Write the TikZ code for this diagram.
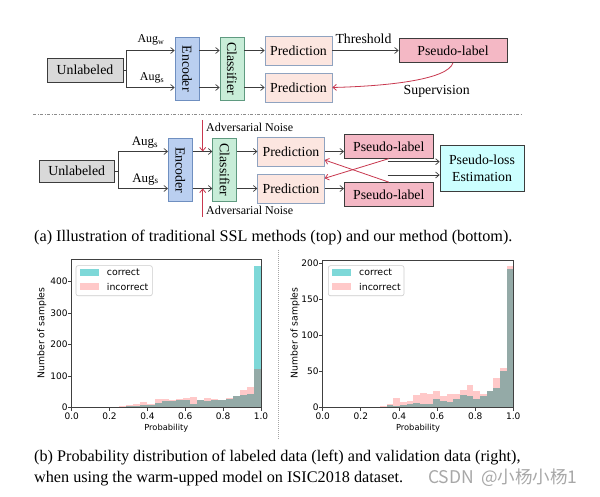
\documentclass[tikz,border=0pt]{standalone}
\usepackage{fontspec}
\setmainfont{Liberation Serif}
\newfontfamily\plotfont{DejaVu Sans}
\newfontfamily\wmfont{Noto Sans CJK SC}
\usetikzlibrary{arrows.meta}
\definecolor{unlab}{HTML}{D9D9D9}
\definecolor{encf}{HTML}{BACFF0}
\definecolor{encd}{HTML}{6F8FC0}
\definecolor{clsf}{HTML}{C8EDD8}
\definecolor{clsd}{HTML}{5F9A80}
\definecolor{predf}{HTML}{FCE6E0}
\definecolor{predd}{HTML}{8FA3C0}
\definecolor{plf}{HTML}{F4B8C5}
\definecolor{plef}{HTML}{CCFFFF}
\definecolor{dk}{HTML}{3C3C3C}
\definecolor{rd}{HTML}{C8384F}
\definecolor{corc}{HTML}{7ED8D8}
\definecolor{incc}{HTML}{FFC9C9}
\definecolor{ovc}{HTML}{94AAA7}
\definecolor{wmgray}{HTML}{A8A8A8}
\begin{document}
\begin{tikzpicture}[x=1pt,y=-1pt,
  box/.style={draw=dk, line width=0.7pt, inner sep=0pt, align=center, font=\fontsize{13.8}{15}\selectfont},
  ln/.style={draw=dk, line width=0.7pt},
  arr/.style={draw=dk, line width=0.7pt, -{Straight Barb[length=3.5pt,width=6pt]}},
  redarr/.style={draw=rd, line width=0.8pt, -{Straight Barb[length=3.5pt,width=6pt]}},
  lbl/.style={inner sep=0pt, font=\fontsize{13.8}{15}\selectfont},
  ptick/.style={inner sep=0pt, font=\plotfont\fontsize{9}{10}\selectfont},
  axisln/.style={draw=black!75, line width=0.7pt}
]
\useasboundingbox[fill=white] (0,0) rectangle (600,497);

% ---------------- top diagram ----------------
\coordinate (ya1) at (0,50.5);
\coordinate (yb1) at (0,87.5);
\node[box, fill=unlab, minimum width=76pt, minimum height=24pt] (U1) at (85,70) {Unlabeled};
\node[box, fill=encf, draw=encd, minimum width=24pt, minimum height=63pt] (E1) at (187,68.7) {\rotatebox[origin=c]{-90}{Encoder}};
\node[box, fill=clsf, draw=clsd, minimum width=24pt, minimum height=63pt] (C1) at (232,68.7) {\rotatebox[origin=c]{-90}{Classifier}};
\node[box, fill=predf, draw=predd, minimum width=67pt, minimum height=29pt] (P1a) at (298.5,50.5) {Prediction};
\node[box, fill=predf, draw=predd, minimum width=67pt, minimum height=29pt] (P1b) at (298.5,87.5) {Prediction};
\node[box, fill=plf, minimum width=108pt, minimum height=24pt] (PL1) at (453,50.5) {Pseudo-label};
\coordinate (b1) at (126,70);
\draw[ln] (U1.east) -- (b1);
\draw[arr] (b1) |- (E1.west |- ya1);
\draw[arr] (b1) |- (E1.west |- yb1);
\draw[arr] (E1.east |- ya1) -- (C1.west |- ya1);
\draw[arr] (E1.east |- yb1) -- (C1.west |- yb1);
\draw[arr] (C1.east |- ya1) -- (P1a.west);
\draw[arr] (C1.east |- yb1) -- (P1b.west);
\draw[arr] (P1a.east) -- (PL1.west);
\node[lbl] (th) at (363.5,38.5) {Threshold};
\draw[redarr] (PL1.south) .. controls (448,79) and (392,86) .. (P1b.east);
\node[lbl] (sup) at (436.7,91) {Supervision};
\node[lbl, font=\fontsize{12}{13}\selectfont] (aw) at (151,40) {Aug\textsubscript{w}};
\node[lbl, font=\fontsize{12}{13}\selectfont] (as1) at (152,78) {Aug\textsubscript{s}};

% separator
\draw[black!45, line width=0.8pt, dash pattern=on 3pt off 1.5pt on 1pt off 1.5pt] (33,114.5) -- (523,114.5);

% ---------------- bottom diagram ----------------
\coordinate (ya2) at (0,151.5);
\coordinate (yb2) at (0,188.5);
\node[box, fill=unlab, minimum width=75pt, minimum height=22.5pt] (U2) at (76.7,171.2) {Unlabeled};
\node[box, fill=encf, draw=encd, minimum width=24pt, minimum height=63.4pt] (E2) at (180.3,170) {\rotatebox[origin=c]{-90}{Encoder}};
\node[box, fill=clsf, draw=clsd, minimum width=24pt, minimum height=63.4pt] (C2) at (224.7,170) {\rotatebox[origin=c]{-90}{Classifier}};
\node[box, fill=predf, draw=predd, minimum width=66.6pt, minimum height=29pt] (P2a) at (291,151.5) {Prediction};
\node[box, fill=predf, draw=predd, minimum width=66.6pt, minimum height=29pt] (P2b) at (291,188.5) {Prediction};
\node[box, fill=plf, minimum width=89pt, minimum height=24pt] (PL2a) at (388.8,146.3) {Pseudo-label};
\node[box, fill=plf, minimum width=89pt, minimum height=24pt] (PL2b) at (388.8,194.5) {Pseudo-label};
\node[box, fill=plef, minimum width=84pt, minimum height=45.3pt, font=\fontsize{13.8}{17}\selectfont] (PLE) at (482,168.3) {Pseudo-loss\\Estimation};
\coordinate (b2) at (118.3,171.2);
\draw[ln] (U2.east) -- (b2);
\draw[arr] (b2) |- (E2.west |- ya2);
\draw[arr] (b2) |- (E2.west |- yb2);
\draw[arr] (E2.east |- ya2) -- (C2.west |- ya2);
\draw[arr] (E2.east |- yb2) -- (C2.west |- yb2);
\draw[arr] (C2.east |- ya2) -- (P2a.west);
\draw[arr] (C2.east |- yb2) -- (P2b.west);
\draw[arr] (P2a.east) -- (PL2a.west |- ya2);
\draw[arr] (P2b.east) -- (PL2b.west |- yb2);
\coordinate (g1) at (387.5,161.7);
\coordinate (g2) at (387.5,175);
\draw[arr] (g1) -- (PLE.west |- g1);
\draw[arr] (g2) -- (PLE.west |- g2);
\coordinate (ry1) at (0,160);
\coordinate (ry2) at (0,178.3);
\draw[redarr] (PL2b.north) -- (P2a.east |- ry1);
\draw[redarr] (PL2a.south) -- (P2b.east |- ry2);
\coordinate (n1) at (202.7,120);
\coordinate (n2) at (202.7,217);
\draw[redarr] (n1) -- (n1 |- ya2);
\draw[redarr] (n2) -- (n2 |- yb2);
\node[lbl, anchor=west, font=\fontsize{12}{13}\selectfont] (an1) at (206,127.3) {Adversarial Noise};
\node[lbl, anchor=west, font=\fontsize{12}{13}\selectfont] (an2) at (206,210.7) {Adversarial Noise};
\node[lbl, font=\fontsize{13}{14}\selectfont] (as2) at (145,142.5) {Aug\textsubscript{s}};
\node[lbl, font=\fontsize{13}{14}\selectfont] (as3) at (145.5,179.2) {Aug\textsubscript{s}};

% caption a
\node[lbl, anchor=west, font=\fontsize{16.2}{18}\selectfont] (capa) at (34,238) {(a) Illustration of traditional SSL methods (top) and our method (bottom).};

% histogram separator
\draw[black!35, line width=0.7pt, dash pattern=on 1pt off 1pt] (278.3,250) -- (278.3,440);

% ---------------- left histogram ----------------
\begin{scope}[shift={(71.7,407.3)}, x=189.3pt, y=0.314pt]
  \foreach \k/\c/\i in {0/1/3,1/3/8,2/5/12,3/7/16,4/8/10,5/14/25,6/19/25,7/20/23,8/22/28,9/22/30,10/11/33,11/22/22,12/19/30,13/23/28,14/22/24,15/25/30,16/36/37,17/38/55,18/42/64,19/451/122}{
    \pgfmathsetmacro\xa{0.25+0.0375*\k}
    \pgfmathsetmacro\xb{\xa+0.0375}
    \pgfmathsetmacro\m{min(\c,\i)}
    \fill[corc] (\xa,0) rectangle (\xb,\c);
    \fill[incc] (\xa,0) rectangle (\xb,\i);
    \fill[ovc] (\xa,0) rectangle (\xb,\m);
  }
  \draw[axisln] (0,0) rectangle (1,471);
  \foreach \v/\t in {0/0.0,0.2/0.2,0.4/0.4,0.6/0.6,0.8/0.8,1/1.0}{
    \draw[axisln] (\v,0) -- ([yshift=-3.5pt]\v,0);
    \node[ptick, anchor=north] at ([yshift=-5pt]\v,0) {\t};
  }
  \foreach \c in {0,100,200,300,400}{
    \draw[axisln] (0,\c) -- ([xshift=-3.5pt]0,\c);
    \node[ptick, anchor=east] at ([xshift=-4pt]0,\c) {\c};
  }
\end{scope}
\node[ptick, rotate=90, font=\plotfont\fontsize{9.3}{10}\selectfont] (yl1) at (41.7,333) {Number of samples};
\node[ptick, font=\plotfont\fontsize{8.3}{9}\selectfont] (xl1) at (166.3,428.5) {Probability};
\draw[draw=black!20, fill=white, rounded corners=2pt, line width=0.6pt] (76,265.7) rectangle (152.3,295.7);
\fill[corc] (80,269) rectangle (99,276);
\fill[incc] (80,283.5) rectangle (99,290.5);
\node[ptick, anchor=west, font=\plotfont\fontsize{9.4}{10}\selectfont] (lc1) at (106.7,272.5) {correct};
\node[ptick, anchor=west, font=\plotfont\fontsize{9.4}{10}\selectfont] (li1) at (106.7,287) {incorrect};

% ---------------- right histogram ----------------
\begin{scope}[shift={(322.7,407.3)}, x=190.6pt, y=0.72pt]
  \foreach \k/\c/\i in {0/1/2,1/3/5,2/2/13,3/3/7,4/4/9,5/6/17,6/5/20,7/5/18,8/11/23,9/9/16,10/7/18,11/12/19,12/17/24,13/16/31,14/11/23,15/16/19,16/22/23,17/27/41,18/50/55,19/192/196}{
    \pgfmathsetmacro\xa{0.3+0.035*\k}
    \pgfmathsetmacro\xb{\xa+0.035}
    \pgfmathsetmacro\m{min(\c,\i)}
    \fill[corc] (\xa,0) rectangle (\xb,\c);
    \fill[incc] (\xa,0) rectangle (\xb,\i);
    \fill[ovc] (\xa,0) rectangle (\xb,\m);
  }
  \draw[axisln] (0,0) rectangle (1,204.5);
  \foreach \v/\t in {0/0.0,0.2/0.2,0.4/0.4,0.6/0.6,0.8/0.8,1/1.0}{
    \draw[axisln] (\v,0) -- ([yshift=-3.5pt]\v,0);
    \node[ptick, anchor=north] at ([yshift=-5pt]\v,0) {\t};
  }
  \foreach \c in {0,50,100,150,200}{
    \draw[axisln] (0,\c) -- ([xshift=-3.5pt]0,\c);
    \node[ptick, anchor=east] at ([xshift=-4pt]0,\c) {\c};
  }
\end{scope}
\node[ptick, rotate=90, font=\plotfont\fontsize{9.3}{10}\selectfont] (yl2) at (295,333) {Number of samples};
\node[ptick, font=\plotfont\fontsize{8.3}{9}\selectfont] (xl2) at (418,428.5) {Probability};
\draw[draw=black!20, fill=white, rounded corners=2pt, line width=0.6pt] (328.3,265.7) rectangle (404,295.7);
\fill[corc] (331.7,269) rectangle (350.7,276);
\fill[incc] (331.7,283.5) rectangle (350.7,290.5);
\node[ptick, anchor=west, font=\plotfont\fontsize{9.4}{10}\selectfont] (lc2) at (359,272.5) {correct};
\node[ptick, anchor=west, font=\plotfont\fontsize{9.4}{10}\selectfont] (li2) at (359,287) {incorrect};

% caption b
\node[lbl, anchor=west, font=\fontsize{16.2}{18}\selectfont] (capb1) at (34,457.5) {(b) Probability distribution of labeled data (left) and validation data (right),};
\node[lbl, anchor=west, font=\fontsize{16.2}{18}\selectfont] (capb2) at (34,478.3) {when using the warm-upped model on ISIC2018 dataset.};
\node[lbl, anchor=west, text=wmgray, font=\wmfont\fontsize{17.5}{19}\selectfont] (wm) at (428,478) {CSDN\hspace{7pt}@小杨小杨1};
\end{tikzpicture}
\end{document}
